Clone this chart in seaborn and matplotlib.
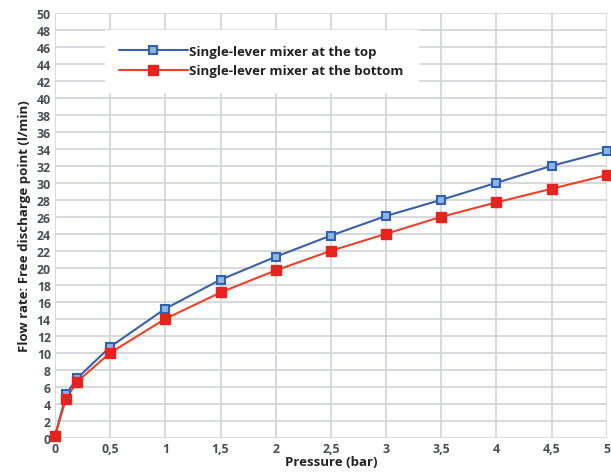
import matplotlib
matplotlib.use("Agg")
import matplotlib.pyplot as plt
import seaborn as sns
import pandas as pd
from matplotlib.lines import Line2D

sns.set_theme(style="whitegrid")
plt.rcParams['font.family'] = ['Open Sans', 'DejaVu Sans']

pressure = [0, 0.1, 0.2, 0.5, 1, 1.5, 2, 2.5, 3, 3.5, 4, 4.5, 5]
flow_top = [0.2, 5.1, 7.0, 10.7, 15.2, 18.6, 21.3, 23.8, 26.1, 28.0, 30.0, 32.0, 33.7]
flow_bottom = [0.2, 4.6, 6.6, 10.0, 14.0, 17.1, 19.7, 22.0, 24.0, 26.0, 27.7, 29.3, 30.9]
series_names = ["Single-lever mixer at the top", "Single-lever mixer at the bottom"]

x_ticks = [0, 0.5, 1, 1.5, 2, 2.5, 3, 3.5, 4, 4.5, 5]
x_tick_labels = ["0", "0,5", "1", "1,5", "2", "2,5", "3", "3,5", "4", "4,5", "5"]
y_ticks = list(range(0, 51, 2))

df = pd.DataFrame({
    "pressure": pressure * 2,
    "flow": flow_top + flow_bottom,
    "series": [series_names[0]] * len(pressure) + [series_names[1]] * len(pressure),
})

fig = plt.figure(figsize=(6.11, 4.77), dpi=100)
ax = fig.add_axes([0.090, 0.080, 0.903, 0.891])

palette = {series_names[0]: "#3c5fa8", series_names[1]: "#e8432b"}
sns.lineplot(data=df, x="pressure", y="flow", hue="series", palette=palette,
             linewidth=1.5, legend=False, ax=ax)

# markers drawn separately to get the different fill styles
ax.plot(pressure, flow_top, linestyle="none", marker="s", markersize=6.3,
        markerfacecolor="#8fb4e0", markeredgecolor="#2f62b0", markeredgewidth=1.5,
        zorder=4, clip_on=False)
ax.plot(pressure, flow_bottom, linestyle="none", marker="s", markersize=6.8,
        markerfacecolor="#e8231f", markeredgecolor="#e8231f", zorder=4, clip_on=False)

ax.set_xlim(0, 5)
ax.set_ylim(0, 50)
ax.set_xticks(x_ticks)
ax.set_xticklabels(x_tick_labels)
ax.set_yticks(y_ticks)

ax.grid(True, color="#d4d6db", linewidth=1.3)
for s in ax.spines.values():
    s.set_visible(False)
ax.tick_params(axis="both", length=0, pad=3, labelsize=8.8, colors="#4a4d55")
for lbl in ax.get_xticklabels() + ax.get_yticklabels():
    lbl.set_fontweight("bold")

ax.set_xlabel("Pressure (bar)", fontsize=9.5, fontweight="bold", color="#222222", labelpad=0)
ax.set_ylabel("Flow rate: Free discharge point (l/min)", fontsize=9.5, fontweight="bold",
              color="#222222", labelpad=4)

handles = [
    Line2D([], [], color="#3c5fa8", linewidth=1.5, marker="s", markersize=6.3,
           markerfacecolor="#8fb4e0", markeredgecolor="#2f62b0", markeredgewidth=1.5),
    Line2D([], [], color="#e8432b", linewidth=1.5, marker="s", markersize=6.8,
           markerfacecolor="#e8231f", markeredgecolor="#e8231f"),
]
leg = ax.legend(handles, series_names, loc="upper left", bbox_to_anchor=(0.085, 0.965),
                frameon=True, fancybox=False, framealpha=1, edgecolor="white",
                handlelength=5.2, fontsize=9.5, borderpad=1.1, labelspacing=0.5,
                handletextpad=0.1, borderaxespad=0.2)
for t in leg.get_texts():
    t.set_fontweight("bold")
    t.set_color("#222222")

fig.savefig("out.png", dpi=100, facecolor="white")
